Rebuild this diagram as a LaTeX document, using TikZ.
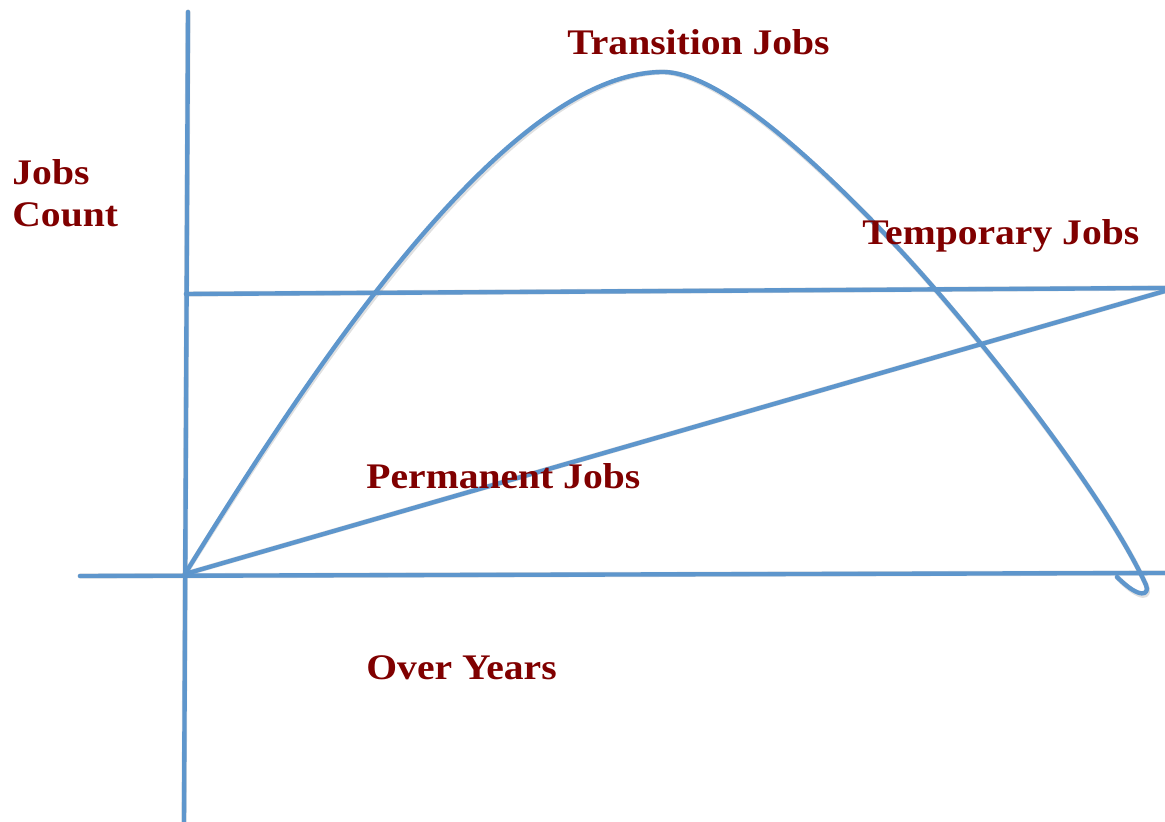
\documentclass[tikz,border=0pt]{standalone}
\usepackage{fontspec}
\setmainfont[FakeStretch=1.1]{Liberation Serif}
\definecolor{lineblue}{RGB}{94,150,204}
\definecolor{labelred}{RGB}{128,0,0}
\begin{document}
\begin{tikzpicture}[x=0.5pt,y=-0.5pt,
  curve/.style={draw=lineblue,line width=2.2pt,line cap=round,line join=round},
  shadowline/.style={draw=black,opacity=0.12,line width=2.6pt,line cap=round,line join=round},
  lbl/.style={text=labelred,inner sep=0pt,anchor=base west,font=\fontsize{18pt}{20pt}\selectfont\bfseries}]
\useasboundingbox (0,0) rectangle (1165,822);
% named coordinates
\coordinate (vtop) at (188,12);
\coordinate (vbot) at (184,822);
\coordinate (hleft) at (80,576);
\coordinate (hright) at (1165,573);
\coordinate (tleft) at (186,294);
\coordinate (tright) at (1165,288);
\coordinate (O) at (185,574);
\coordinate (pend) at (1165,291);
\coordinate (peak) at (663,72);
\coordinate (mid) at (900,250);
\coordinate (low) at (1146,585);
\coordinate (hookend) at (1117,577);
\def\bell{(O) .. controls (327,343) and (513,72) .. (peak)
  .. controls (723,72) and (828,173) .. (mid)
  .. controls (980,336) and (1106,497) .. (low)
  .. controls (1150,595) and (1140,600) .. (hookend)}
% shadows
\begin{scope}[shift={(1.5,2.5)}]
\path[shadowline] (vtop) -- (vbot);
\path[shadowline] (hleft) -- (hright);
\path[shadowline] (tleft) -- (tright);
\path[shadowline] (O) -- (pend);
\path[shadowline] \bell;
\end{scope}
% lines
\path[curve] (vtop) -- (vbot);
\path[curve] (hleft) -- (hright);
\path[curve] (tleft) -- (tright);
\path[curve] (O) -- (pend);
\path[curve] \bell;
% labels
\node[lbl] (trans) at (567,55) {Transition Jobs};
\node[lbl] (jobs) at (12,185) {Jobs};
\node[lbl] (count) at (12,227) {Count};
\node[lbl] (temp) at (862,245) {Temporary Jobs};
\node[lbl] (perm) at (366,488) {Permanent Jobs};
\node[lbl] (years) at (366,679) {Over Years};
\end{tikzpicture}
\end{document}
